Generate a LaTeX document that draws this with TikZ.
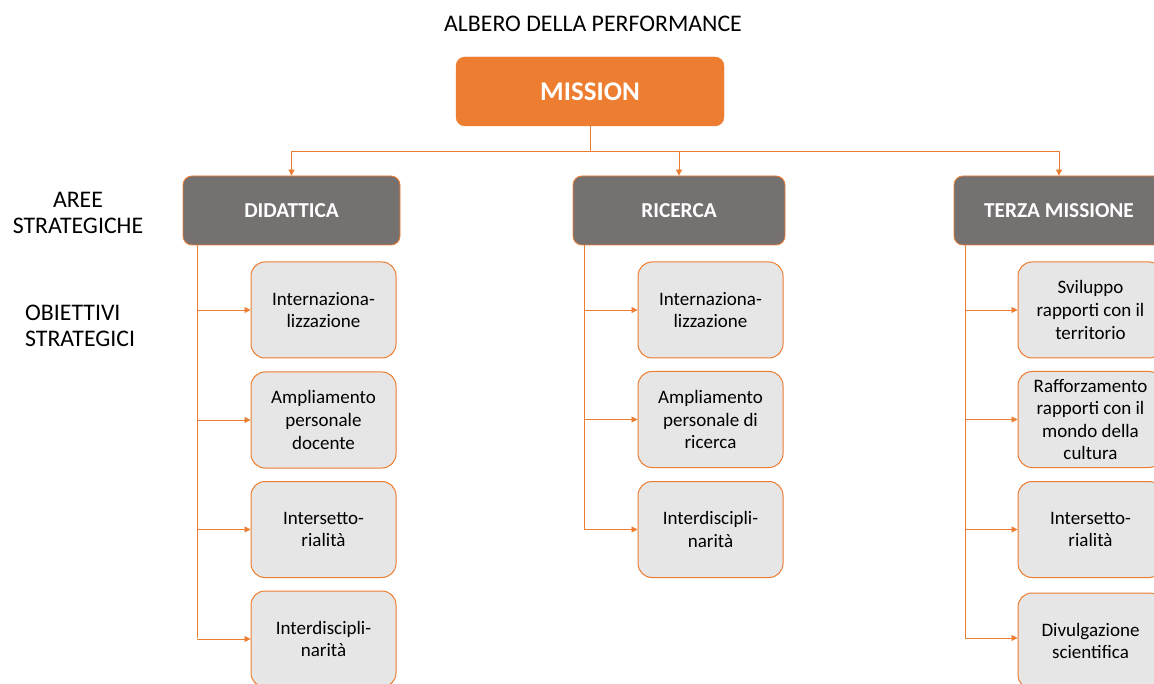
\documentclass[tikz,border=0pt]{standalone}
\usepackage{fontspec}
\setmainfont{Carlito}
\usetikzlibrary{arrows.meta}
\definecolor{orng}{HTML}{ED7D31}
\definecolor{grayd}{HTML}{767171}
\definecolor{grayl}{HTML}{E7E6E6}
\tikzset{
  missionbox/.style={draw=orng, fill=orng, rounded corners=9pt, text=white, font=\fontsize{27}{32}\selectfont\bfseries, minimum width=268pt, minimum height=69pt, inner sep=0pt},
  areabox/.style={draw=orng, line width=0.8pt, fill=grayd, rounded corners=9pt, text=white, font=\fontsize{21.3}{25}\selectfont\bfseries, minimum height=69pt, inner sep=0pt},
  objbox/.style={draw=orng, line width=1pt, fill=grayl, rounded corners=14pt, text=black, font=\fontsize{19}{22.6}\selectfont, align=center, minimum width=145pt, minimum height=96pt, inner sep=0pt},
  conn/.style={draw=orng, line width=0.8pt},
  arr/.style={conn, -{Triangle[length=6pt,width=6pt]}},
  lbl/.style={font=\fontsize{23.8}{26.5}\selectfont, text=black, inner sep=0pt}
}
\begin{document}
\begin{tikzpicture}[x=1pt,y=-1pt]
\useasboundingbox (0,0) rectangle (1154,684);
\clip (0,0) rectangle (1154,684);
\fill[white] (0,0) rectangle (1154,684);
\node[lbl] (title) at (593,24) {ALBERO DELLA PERFORMANCE};
\node[missionbox] (mission) at (590,91.5) {MISSION};
\node[lbl, align=center] (aree) at (78,213) {AREE\\STRATEGICHE};
\node[lbl, align=left, anchor=west] (obj) at (25,326) {OBIETTIVI\\STRATEGICI};
\node[areabox, minimum width=217pt] (did) at (291.5,210.5) {DIDATTICA};
\node[areabox, minimum width=212pt] (ric) at (679,210.5) {RICERCA};
\node[areabox, minimum width=210pt] (ter) at (1059,210.5) {TERZA MISSIONE};
% didattica objectives
\node[objbox] (d1) at (323.5,310) {Internaziona-\\lizzazione};
\node[objbox] (d2) at (323.5,420) {Ampliamento\\personale\\docente};
\node[objbox] (d3) at (323.5,529.5) {Intersetto-\\rialità};
\node[objbox] (d4) at (323.5,639) {Interdiscipli-\\narità};
% ricerca objectives
\node[objbox] (r1) at (710.5,310) {Internaziona-\\lizzazione};
\node[objbox] (r2) at (710.5,419.5) {Ampliamento\\personale di\\ricerca};
\node[objbox] (r3) at (710.5,529.5) {Interdiscipli-\\narità};
% terza objectives
\node[objbox] (t1) at (1090.5,310) {Sviluppo\\rapporti con il\\territorio};
\node[objbox] (t2) at (1090.5,419.5) {Rafforzamento\\rapporti con il\\mondo della\\cultura};
\node[objbox] (t3) at (1090.5,529.5) {Intersetto-\\rialità};
\node[objbox] (t4) at (1090.5,641) {Divulgazione\\scientifica};
% connectors from mission
\coordinate (bus) at (590,151);
\draw[conn] (mission.south) -- (bus);
\draw[arr] (bus) -| (did.north);
\draw[arr] (bus) -| (ric.north);
\draw[arr] (bus) -| (ter.north);
% didattica
\draw[conn] (did.south -| 197,0) -- (197,638);
\foreach \n in {d1,d2,d3,d4} \draw[arr] (197,0 |- \n.west) -- (\n.west);
% ricerca
\draw[conn] (ric.south -| 584,0) -- (584,529.5);
\foreach \n in {r1,r2,r3} \draw[arr] (584,0 |- \n.west) -- (\n.west);
% terza
\draw[conn] (ter.south -| 965,0) -- (965,638);
\draw[arr] (965,310) -- (t1.west);
\draw[arr] (965,419.5) -- (t2.west);
\draw[arr] (965,529.5) -- (t3.west);
\draw[arr] (965,638) -- (t4.west |- 965,638);
\end{tikzpicture}
\end{document}
